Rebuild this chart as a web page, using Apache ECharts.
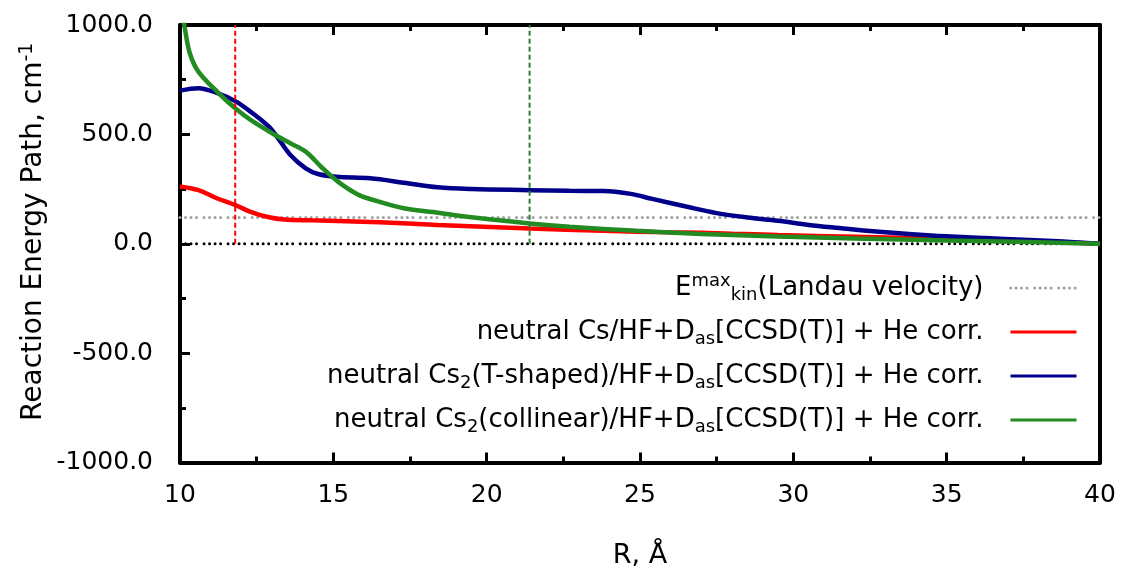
<!DOCTYPE html>
<html>
<head>
<meta charset="utf-8">
<script src="https://cdn.jsdelivr.net/npm/echarts@6/dist/echarts.min.js"></script>
<style>
  html, body { margin: 0; padding: 0; background: #ffffff; }
  #chart { width: 1125px; height: 575px; }
</style>
</head>
<body>
<div id="chart"></div>
<script>
// Reaction energy path (cm^-1) versus separation R (Å) for three neutral complexes.
const rCs = [10, 10.6, 11.2, 11.8, 12.3, 12.9, 13.4, 14.3, 16.5, 18.4, 21.4, 23.8, 26.0, 27.0, 28.0, 29.5, 32.0, 35.0, 37.7, 40];
const eCs = [262, 245, 208, 177, 146, 121, 111, 107, 98, 86, 70, 59, 52, 50, 46, 40, 32, 22, 12, 0];

const rCs2T = [10, 10.6, 11.2, 11.8, 12.3, 12.9, 13.2, 13.6, 14.1, 14.5, 15.1, 16.2, 17.3, 18.4, 19.5, 21.4, 22.7, 23.8, 24.7, 25.4, 26.5, 27.5, 28.5, 29.5, 30.5, 31.5, 32.8, 34.5, 36.1, 37.7, 38.8, 40];
const eCs2T = [700, 711, 690, 652, 604, 535, 482, 406, 345, 319, 306, 299, 279, 258, 250, 245, 242, 241, 228, 205, 170, 140, 120, 105, 86, 72, 55, 38, 27, 17, 10, 0];

const rCs2Lin = [10, 10.15, 10.32, 10.6, 11.25, 11.8, 12.3, 13.1, 13.6, 14.1, 14.6, 15.15, 15.8, 16.3, 17.3, 18.4, 19.5, 21.4, 22.7, 24.9, 27.0, 29.5, 32.0, 35.0, 37.7, 40];
const eCs2Lin = [1100, 990, 871, 787, 690, 619, 566, 497, 459, 421, 352, 284, 225, 200, 162, 142, 121, 93, 78, 59, 45, 33, 24, 15, 8, 0];

// Maximum kinetic energy at the Landau velocity (cm^-1)
const landauEnergy = 120;
// Vertical markers (Å)
const markerCs = 11.8;
const markerCs2Lin = 21.4;

// Axis ranges: labelled step and the finer tick step
const xMin = 10, xMax = 40, xStep = 5, xMinorStep = 2.5;
const yMin = -1000, yMax = 1000, yStep = 500, yMinorStep = 250;

const FONT = 'DejaVu Sans';
const dots = [0.01, 5.5, 0.01, 5.5, 0.01, 5.5, 0.01, 7.5];

const names = {
  landau: 'Emax kin (Landau velocity)',
  cs: 'neutral Cs/HF',
  cs2t: 'neutral Cs2 (T-shaped)/HF',
  cs2l: 'neutral Cs2 (collinear)/HF'
};
const legendText = {};
legendText[names.landau] = '{t|E}{sup|max}{sub|kin}{tail|(Landau velocity)}';
legendText[names.cs] = '{t|neutral Cs/HF+D}{sub|as}{tail|[CCSD(T)] + He corr.}';
legendText[names.cs2t] = '{t|neutral Cs}{sub|2}{t|(T-shaped)/HF+D}{sub|as}{tail|[CCSD(T)] + He corr.}';
legendText[names.cs2l] = '{t|neutral Cs}{sub|2}{t|(collinear)/HF+D}{sub|as}{tail|[CCSD(T)] + He corr.}';

function pairs(xs, ys) { return xs.map((x, i) => [x, ys[i]]); }

const baseText = { fontFamily: FONT, fontSize: 26, color: '#000', lineHeight: 34 };
const richText = {
  t: baseText,
  tail: Object.assign({}, baseText, { padding: [0, 22, 0, 0] }),
  sup: { fontFamily: FONT, fontSize: 18, color: '#000', lineHeight: 20, padding: [0, 0, 14, 0] },
  sub: { fontFamily: FONT, fontSize: 18, color: '#000', lineHeight: 20, padding: [14, 0, 0, 0] }
};

const chart = echarts.init(document.getElementById('chart'), null, { renderer: 'canvas' });

function frame() { return { show: true, onZero: false, lineStyle: { color: '#000', width: 4 } }; }

// Tick marks: thin strips along the frame whose split lines act as inward ticks
const plot = { left: 180, right: 25, top: 25, bottom: 112.5 };
const tickStrips = [
  { left: plot.left, right: plot.right, bottom: plot.bottom, height: 10 },
  { left: plot.left, right: plot.right, bottom: plot.bottom, height: 6 },
  { left: plot.left, right: plot.right, top: plot.top, height: 10 },
  { left: plot.left, right: plot.right, top: plot.top, height: 6 },
  { left: plot.left, width: 10, top: plot.top, bottom: plot.bottom },
  { left: plot.left, width: 6, top: plot.top, bottom: plot.bottom }
];
const tickLine = { show: true, lineStyle: { color: '#000', width: 3 } };
function tickAxisX(gridIndex, step) {
  return {
    type: 'value', gridIndex: gridIndex, min: xMin, max: xMax, interval: step,
    axisLine: { show: false }, axisTick: { show: false }, axisLabel: { show: false },
    splitLine: tickLine
  };
}
function tickAxisY(gridIndex, step) {
  return {
    type: 'value', gridIndex: gridIndex, min: yMin, max: yMax, interval: step,
    axisLine: { show: false }, axisTick: { show: false }, axisLabel: { show: false },
    splitLine: tickLine
  };
}
function idleAxis(gridIndex) {
  return { type: 'value', gridIndex: gridIndex, min: 0, max: 1, show: false };
}

chart.setOption({
  animation: false,
  backgroundColor: '#ffffff',
  grid: [plot].concat(tickStrips),
  xAxis: [{
    type: 'value', gridIndex: 0, min: xMin, max: xMax, interval: xStep, position: 'bottom',
    axisLine: frame(),
    axisTick: { show: false },
    splitLine: { show: false },
    axisLabel: { margin: 20, fontFamily: FONT, fontSize: 25, color: '#000' },
    name: 'R, Å', nameLocation: 'middle', nameGap: 80,
    nameTextStyle: { fontFamily: FONT, fontSize: 27, color: '#000' }
  }, {
    type: 'value', gridIndex: 0, min: xMin, max: xMax, interval: xStep, position: 'top',
    axisLine: frame(),
    axisTick: { show: false },
    splitLine: { show: false },
    axisLabel: { show: false }
  },
  tickAxisX(1, xStep), tickAxisX(2, xMinorStep),
  tickAxisX(3, xStep), tickAxisX(4, xMinorStep),
  idleAxis(5), idleAxis(6)],
  yAxis: [{
    type: 'value', gridIndex: 0, min: yMin, max: yMax, interval: yStep, position: 'left',
    axisLine: frame(),
    axisTick: { show: false },
    splitLine: { show: false },
    axisLabel: {
      margin: 27, fontFamily: FONT, fontSize: 25, color: '#000',
      formatter: v => v.toFixed(1)
    },
    name: '{t|Reaction Energy Path, cm}{sup|-1}',
    nameLocation: 'middle', nameGap: 128, nameRotate: 90,
    nameMoveOverlap: false,
    nameTextStyle: {
      padding: [0, 0, 0, 24],
      rich: {
        t: { fontFamily: FONT, fontSize: 28, color: '#000', lineHeight: 36 },
        sup: { fontFamily: FONT, fontSize: 19, color: '#000', lineHeight: 22, padding: [0, 0, 14, 0] }
      }
    }
  }, {
    type: 'value', gridIndex: 0, min: yMin, max: yMax, interval: yStep, position: 'right',
    axisLine: frame(),
    axisTick: { show: false },
    splitLine: { show: false },
    axisLabel: { show: false }
  },
  idleAxis(1), idleAxis(2), idleAxis(3), idleAxis(4),
  tickAxisY(5, yStep), tickAxisY(6, yMinorStep)],
  legend: {
    data: [names.landau, names.cs, names.cs2t, names.cs2l],
    orient: 'vertical', align: 'right',
    right: 47, top: 272, padding: 0,
    itemWidth: 66, itemHeight: 14, itemGap: 12,
    selectedMode: false,
    itemStyle: { opacity: 0 },
    lineStyle: { width: 3 },
    formatter: n => legendText[n],
    textStyle: { rich: richText }
  },
  series: [
    {
      type: 'line', name: 'zero', data: [[xMin, 0], [xMax, 0]],
      symbol: 'none', z: 1,
      lineStyle: { color: '#000', width: 3, type: dots, cap: 'round' }
    },
    {
      type: 'line', name: names.landau, data: [[xMin, landauEnergy], [xMax, landauEnergy]],
      symbol: 'none', z: 2,
      itemStyle: { color: '#a0a0a0' },
      lineStyle: { color: '#a0a0a0', width: 3, type: dots, cap: 'round' }
    },
    {
      type: 'line', name: names.cs, data: pairs(rCs, eCs),
      symbol: 'none', smooth: 0.35, z: 3,
      itemStyle: { color: '#ff0000' },
      lineStyle: { color: '#ff0000', width: 4.5 }
    },
    {
      type: 'line', name: names.cs2t, data: pairs(rCs2T, eCs2T),
      symbol: 'none', smooth: 0.35, z: 4,
      itemStyle: { color: '#00008b' },
      lineStyle: { color: '#00008b', width: 4.5 }
    },
    {
      type: 'line', name: names.cs2l, data: pairs(rCs2Lin, eCs2Lin),
      symbol: 'none', smooth: 0.35, z: 5,
      itemStyle: { color: '#228b22' },
      lineStyle: { color: '#228b22', width: 4.5 }
    },
    {
      type: 'line', name: 'marker Cs', data: [[markerCs, 0], [markerCs, yMax]],
      symbol: 'none', z: 6,
      lineStyle: { color: '#ff0000', width: 2, type: [5, 3] }
    },
    {
      type: 'line', name: 'marker Cs2', data: [[markerCs2Lin, 0], [markerCs2Lin, yMax]],
      symbol: 'none', z: 6,
      lineStyle: { color: '#2a7d36', width: 2, type: [5, 3] }
    }
  ]
});
</script>
</body>
</html>
